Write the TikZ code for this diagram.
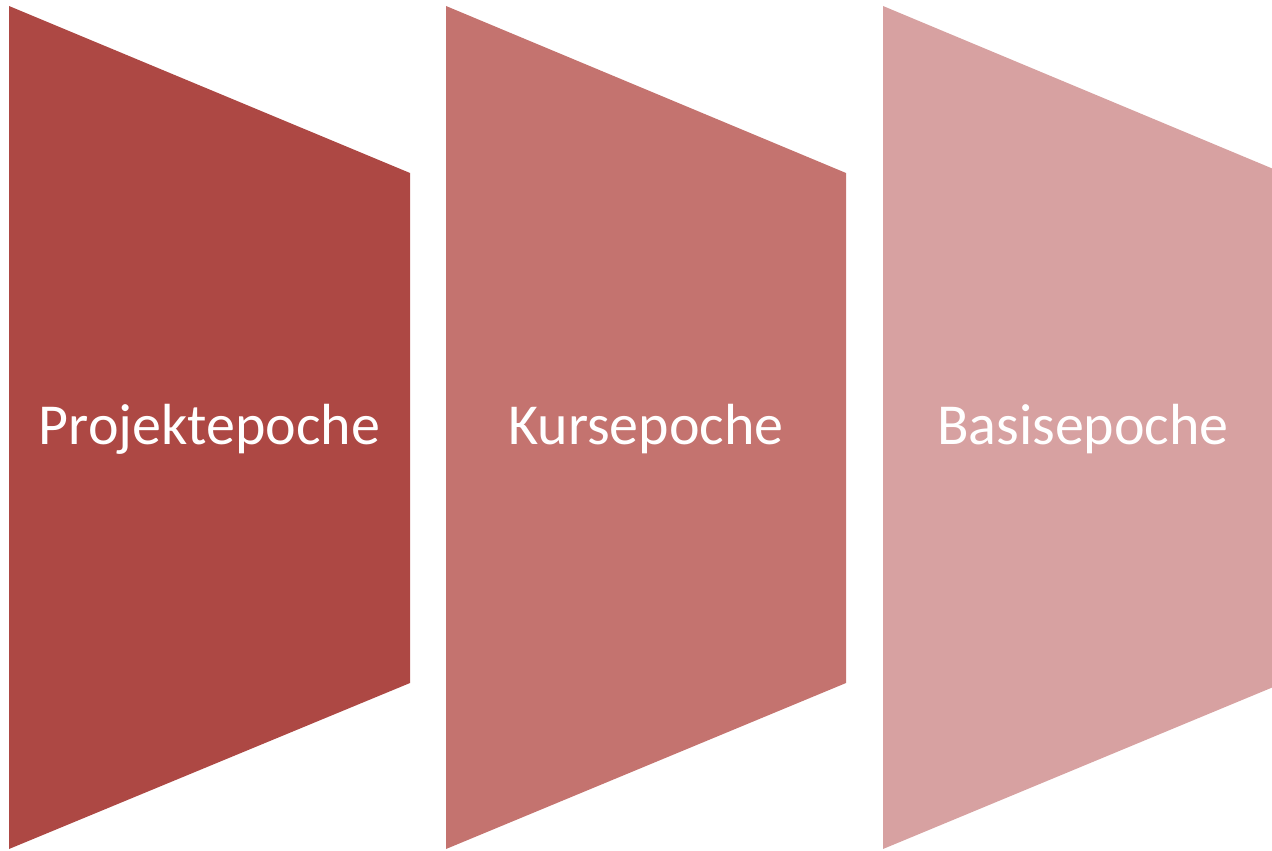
\documentclass[tikz,border=0pt]{standalone}
\usepackage{fontspec}
\setmainfont{Carlito}
\begin{document}
\begin{tikzpicture}[x=1pt,y=-1pt,
  lbl/.style={text=white,font=\fontsize{58}{70}\selectfont,anchor=base,inner sep=0pt}]
\useasboundingbox (0,0) rectangle (1272,851);
\clip (0,0) rectangle (1272,851);
\definecolor{cA}{HTML}{AD4844}
\definecolor{cB}{HTML}{C4736F}
\definecolor{cC}{HTML}{D7A1A1}
\fill[cA] (9,6) -- (410,173) -- (410,683) -- (9,849) -- cycle;
\fill[cB] (446,6) -- (846,173) -- (846,683) -- (446,849) -- cycle;
\fill[cC] (883,6) -- (1283,173) -- (1283,683) -- (883,849) -- cycle;
\node[lbl] (p) at (209.5,444) {Projektepoche};
\node[lbl] (k) at (646,444) {Kursepoche};
\node[lbl] (b) at (1083,444) {Basisepoche};
\end{tikzpicture}
\end{document}
